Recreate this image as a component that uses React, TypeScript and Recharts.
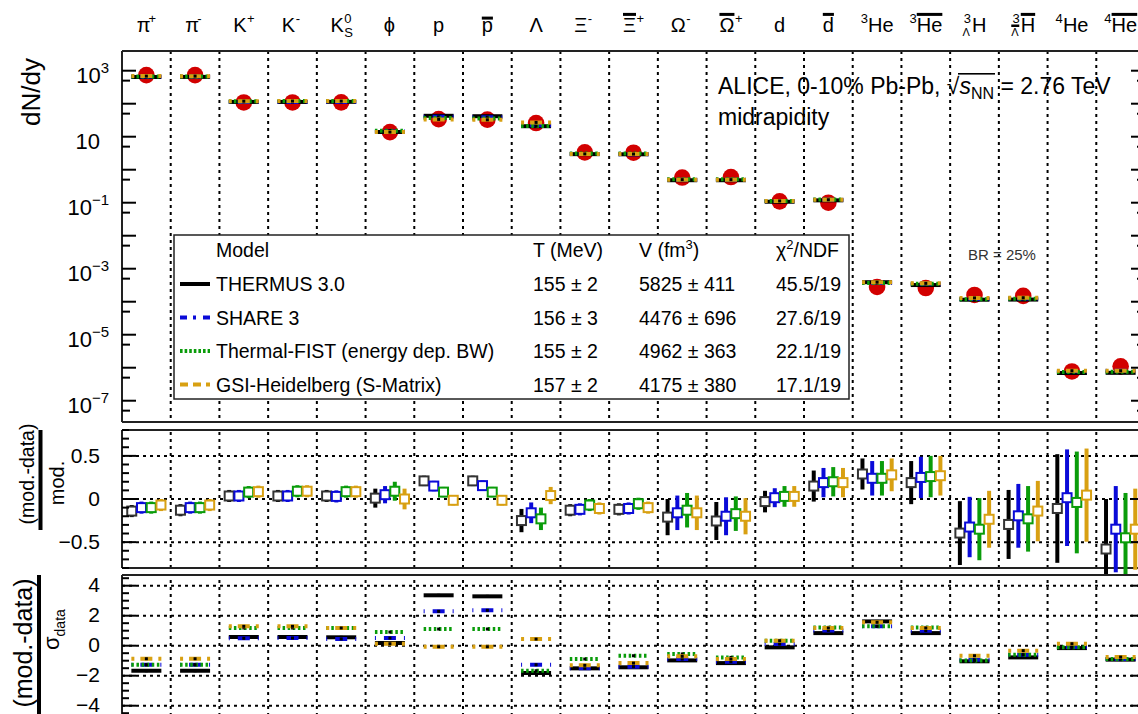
import React from 'react';
import { ScatterChart, Scatter, XAxis, YAxis, ReferenceLine, ErrorBar } from 'recharts';

// ---------------- data ----------------
const categories = ['π+', 'π-', 'K+', 'K-', 'K0S', 'ϕ', 'p', 'p̄', 'Λ', 'Ξ-', 'Ξ̄+', 'Ω-', 'Ω̄+', 'd', 'd̄', '3He', '3H̄e', '3ΛH', '3Λ̄H̄', '4He', '4H̄e'];

// tick label glyph specs (main glyph, superscript, subscript, prescripts, overline)
const catSpecs = [
  { main: 'π', w: 11.4, sup: '+' },
  { main: 'π', w: 11.4, sup: '-' },
  { main: 'K', w: 13.3, sup: '+' },
  { main: 'K', w: 13.3, sup: '-' },
  { main: 'K', w: 13.3, sup: '0', sub: 'S' },
  { main: 'ϕ', w: 12.5 },
  { main: 'p', w: 11.1 },
  { main: 'p', w: 11.1, bar: true, low: true },
  { main: 'Λ', w: 13.3 },
  { main: 'Ξ', w: 13.0, sup: '-' },
  { main: 'Ξ', w: 13.0, sup: '+', bar: true },
  { main: 'Ω', w: 15.0, sup: '-' },
  { main: 'Ω', w: 15.0, sup: '+', bar: true },
  { main: 'd', w: 11.1 },
  { main: 'd', w: 11.1, bar: true },
  { pre: '3', main: 'He', w: 25.6 },
  { pre: '3', main: 'He', w: 25.6, bar: true },
  { pre: '3', preSub: 'Λ', main: 'H', w: 14.4 },
  { pre: '3', preSub: 'Λ', preSubBar: true, main: 'H', w: 14.4, bar: true },
  { pre: '4', main: 'He', w: 25.6 },
  { pre: '4', main: 'He', w: 25.6, bar: true },
];

const dataYield = [733, 732, 109, 109, 110, 13.8, 34, 33, 26, 3.34, 3.28, 0.58, 0.6, 0.11, 0.1, 2.8e-4, 2.6e-4, 1.6e-4, 1.5e-4, 7.7e-7, 1.1e-6];

const thermusYield = [643, 648, 113, 113, 114, 13.9, 43, 41.8, 20.8, 2.96, 2.93, 0.48, 0.48, 0.107, 0.118, 3.9e-4, 3.2e-4, 1.15e-4, 1.16e-4, 6.9e-7, 7.0e-7];
const shareYield = [666, 665, 113, 113, 113.4, 14.5, 40, 39, 22.4, 2.98, 2.95, 0.5, 0.5, 0.112, 0.123, 3.7e-4, 3.5e-4, 1.21e-4, 1.26e-4, 7.8e-7, 8.1e-7];
const fistYield = [666, 665, 118.5, 120, 120, 15.2, 37, 35.9, 21.1, 3.12, 3.11, 0.51, 0.51, 0.113, 0.125, 3.7e-4, 3.5e-4, 1.19e-4, 1.22e-4, 7.4e-7, 7.6e-7];
const gsiYield = [685, 684, 119, 120, 120, 13.8, 33.5, 32.5, 27.1, 3.01, 2.98, 0.5, 0.5, 0.113, 0.123, 3.9e-4, 3.6e-4, 1.3e-4, 1.32e-4, 8.1e-7, 8.1e-7];

const thermusRatio = [-0.14, -0.13, 0.035, 0.035, 0.035, 0.01, 0.21, 0.21, -0.25, -0.13, -0.12, -0.21, -0.255, -0.03, 0.15, 0.29, 0.19, -0.395, -0.295, -0.11, -0.58];
const shareRatio = [-0.1, -0.1, 0.035, 0.035, 0.03, 0.05, 0.15, 0.155, -0.16, -0.12, -0.11, -0.16, -0.2, 0.015, 0.19, 0.24, 0.25, -0.325, -0.195, 0.015, -0.35];
const fistRatio = [-0.1, -0.1, 0.08, 0.09, 0.085, 0.09, 0.08, 0.08, -0.23, -0.07, -0.055, -0.13, -0.17, 0.03, 0.2, 0.24, 0.26, -0.35, -0.23, -0.04, -0.45];
const gsiRatio = [-0.07, -0.07, 0.085, 0.09, 0.085, 0.0, -0.015, -0.015, 0.04, -0.11, -0.1, -0.16, -0.2, 0.03, 0.19, 0.28, 0.27, -0.235, -0.14, 0.045, -0.35];

const thermusRatioErr = [0.07, 0.07, 0.07, 0.07, 0.07, 0.11, 0.06, 0.06, 0.135, 0.07, 0.07, 0.21, 0.22, 0.125, 0.18, 0.18, 0.25, 0.37, 0.4, 0.63, 0.58];
const shareRatioErr = [0.07, 0.07, 0.07, 0.07, 0.07, 0.1, 0.06, 0.06, 0.12, 0.07, 0.07, 0.2, 0.22, 0.11, 0.17, 0.2, 0.24, 0.35, 0.37, 0.56, 0.5];
const fistRatioErr = [0.07, 0.07, 0.07, 0.07, 0.07, 0.11, 0.06, 0.06, 0.13, 0.07, 0.07, 0.2, 0.2, 0.12, 0.17, 0.2, 0.24, 0.36, 0.38, 0.59, 0.52];
const gsiRatioErr = [0.07, 0.07, 0.07, 0.07, 0.07, 0.12, 0.06, 0.06, 0.1, 0.07, 0.07, 0.2, 0.21, 0.12, 0.17, 0.19, 0.23, 0.33, 0.35, 0.54, 0.47];

const thermusSigma = [-1.67, -1.67, 0.58, 0.58, 0.56, 0.18, 3.36, 3.29, -1.82, -1.51, -1.44, -0.98, -1.16, -0.11, 0.84, 1.62, 0.84, -1.04, -0.78, -0.16, -0.93];
const shareSigma = [-1.27, -1.27, 0.49, 0.51, 0.45, 0.51, 2.29, 2.36, -1.27, -1.51, -1.4, -0.89, -1.07, 0.11, 1.02, 1.29, 1.0, -0.93, -0.6, -0.09, -0.89];
const fistSigma = [-1.27, -1.27, 1.18, 1.18, 1.18, 0.91, 1.11, 1.11, -1.67, -0.89, -0.67, -0.55, -0.78, 0.33, 1.22, 1.29, 1.22, -0.98, -0.6, -0.11, -0.89];
const gsiSigma = [-0.87, -0.87, 1.29, 1.29, 1.18, 0.13, -0.07, -0.07, 0.44, -1.31, -1.16, -0.71, -0.89, 0.33, 1.18, 1.56, 1.18, -0.67, -0.33, 0.13, -0.76];

const modelNames = ['THERMUS 3.0', 'SHARE 3', 'Thermal-FIST (energy dep. BW)', 'GSI-Heidelberg (S-Matrix)'];
const modelT = ['155 ± 2', '156 ± 3', '155 ± 2', '157 ± 2'];
const modelV = ['5825 ± 411', '4476 ± 696', '4962 ± 363', '4175 ± 380'];
const modelChi2 = ['45.5/19', '27.6/19', '22.1/19', '17.1/19'];

const topTickExps = [-7, -6, -5, -4, -3, -2, -1, 0, 1, 2, 3];
const topLabelExps = [3, 1, -1, -3, -5, -7];
const midTickValues = [-0.8, -0.7, -0.6, -0.5, -0.4, -0.3, -0.2, -0.1, 0, 0.1, 0.2, 0.3, 0.4, 0.5, 0.6, 0.7, 0.8];
const midGrid = [-0.5, 0, 0.5];
const botTickValues = [-4.5, -4, -3.5, -3, -2.5, -2, -1.5, -1, -0.5, 0, 0.5, 1, 1.5, 2, 2.5, 3, 3.5, 4, 4.5];
const botGrid = [-4, -2, 0, 2, 4];

// ---------------- styling ----------------
const FONT = "'Liberation Sans', Arial, Helvetica, sans-serif";
const CW = 1160;
const PLOT_L = 122;
const PLOT_R = 1145;
const Y_AXIS_W = 112;
const M_LEFT = PLOT_L - Y_AXIS_W;
const M_RIGHT = CW - PLOT_R;
const LOG_MIN = Math.pow(10, -7.645);
const LOG_MAX = Math.pow(10, 3.597);
const MID_DOMAIN = [-0.8, 0.8];
const BOT_DOMAIN = [-4.687, 4.713];

const modelColors = ['#000000', '#0a0ad8', '#0a9c0a', '#d8a012'];
const segDash = [undefined, '1 8 12 8 1', '2.5 2.6', '3 6 12 6 3'];
const legendDash = [undefined, '7 6 3 7 7', '2.6 2', '8 5'];
const squareStroke = ['#333333', '#0a0ad8', '#0a9c0a', '#d8a012'];
const offsets = [-0.3, -0.1, 0.1, 0.3];

const centers = categories.map((_, i) => i + 0.5);
const separators = categories.slice(1).map((_, i) => i + 1);

const topTicks = [
  ...topTickExps.map((e) => Math.pow(10, e)),
  ...topTickExps.map((e) => 5 * Math.pow(10, e - 1)),
].sort((a, b) => a - b);

const yieldSets = [thermusYield, shareYield, fistYield, gsiYield];
const ratioSets = [thermusRatio, shareRatio, fistRatio, gsiRatio];
const ratioErrSets = [thermusRatioErr, shareRatioErr, fistRatioErr, gsiRatioErr];
const sigmaSets = [thermusSigma, shareSigma, fistSigma, gsiSigma];

const dataRows = dataYield.map((v, i) => ({ x: centers[i], y: v }));
const modelYieldRows = yieldSets.map((set) => set.map((v, i) => ({ x: centers[i], y: v })));
const modelRatioRows = ratioSets.map((set, k) =>
  set.map((v, i) => ({ x: centers[i] + offsets[k], y: v, err: ratioErrSets[k][i] }))
);
const modelSigmaRows = sigmaSets.map((set) => set.map((v, i) => ({ x: centers[i], y: v })));

// ---------------- shapes & ticks ----------------
const redCircle = (props: any) => {
  const { cx, cy } = props;
  if (cx == null || cy == null) return null;
  return <circle cx={cx} cy={cy} r={8.3} fill="#d20000" />;
};

const segShape = (k: number) => (props: any) => {
  const { cx, cy } = props;
  if (cx == null || cy == null) return null;
  return (
    <g>
      <line x1={cx - 15} x2={cx + 15} y1={cy} y2={cy} stroke={modelColors[k]} strokeWidth={4} strokeDasharray={segDash[k]} />
      <rect x={cx - 1.5} y={cy - 1.5} width={3} height={3} fill="#000" />
    </g>
  );
};

const squareShape = (k: number) => (props: any) => {
  const { cx, cy } = props;
  if (cx == null || cy == null) return null;
  return <rect x={cx - 4.5} y={cy - 4.5} width={9} height={9} fill="#fff" stroke={squareStroke[k]} strokeWidth={2} />;
};

const minus = (v: number) => (v < 0 ? '\u2212' + String(Math.abs(v)) : String(v));

const CatTick = (props: any) => {
  const { x, payload } = props;
  const i = Math.round(payload.value - 0.5);
  const s: any = catSpecs[i];
  if (!s) return null;
  const F = 20;
  const f = 13;
  const base = 32;
  const preW = s.pre ? (s.preSub ? 9.5 : 7.5) : 0;
  const supW = s.sup || s.sub ? 8 : 0;
  const total = preW + s.w + supW;
  const x0 = x - total / 2;
  const xm = x0 + preW;
  const barY = s.low ? base - 0.52 * F - 5 : base - 0.73 * F - 4.5;
  return (
    <g fontFamily={FONT} fill="#000">
      {s.pre && <text x={x0 + (preW - 7.2) / 2} y={base - 9} fontSize={f}>{s.pre}</text>}
      {s.preSub && <text x={x0} y={base + 4} fontSize={11}>{s.preSub}</text>}
      {s.preSubBar && <rect x={x0} y={base - 7.5} width={8} height={2.5} fill="#000" />}
      <text x={xm} y={base} fontSize={F}>{s.main}</text>
      {s.bar && <rect x={xm} y={barY} width={s.w} height={3} fill="#000" />}
      {s.sup && <text x={xm + s.w + 0.5} y={base - 9} fontSize={f}>{s.sup}</text>}
      {s.sub && <text x={xm + s.w + 0.5} y={base + 5} fontSize={f}>{s.sub}</text>}
    </g>
  );
};

const TopYTick = (props: any) => {
  const { y, payload } = props;
  const e = Math.log10(payload.value);
  const re = Math.round(e);
  const major = Math.abs(e - re) < 1e-6;
  const len = major ? 14 : 8;
  const labeled = major && topLabelExps.indexOf(re) >= 0;
  return (
    <g>
      <line x1={PLOT_L} x2={PLOT_L + len} y1={y} y2={y} stroke="#000" strokeWidth={2} />
      <line x1={PLOT_R - len} x2={PLOT_R} y1={y} y2={y} stroke="#000" strokeWidth={2} />
      {labeled && (
        <text x={re === 1 ? 100 : 109} y={y + 12} textAnchor="end" fontSize={22} fontFamily={FONT} fill="#000">
          10
          {re !== 1 && (
            <tspan dy={-10} fontSize={15}>
              {minus(re)}
            </tspan>
          )}
        </text>
      )}
    </g>
  );
};

const makeLinTick = (isMajor: (v: number) => boolean, dy: number) => (props: any) => {
  const { y, payload } = props;
  const v = payload.value;
  const major = isMajor(v);
  const len = major ? 14 : 7;
  return (
    <g>
      <line x1={PLOT_L} x2={PLOT_L + len} y1={y} y2={y} stroke="#000" strokeWidth={2} />
      <line x1={PLOT_R - len} x2={PLOT_R} y1={y} y2={y} stroke="#000" strokeWidth={2} />
      {major && (
        <text x={100} y={y + dy} textAnchor="end" fontSize={21} fontFamily={FONT} fill="#000">
          {minus(v)}
        </text>
      )}
    </g>
  );
};

const MidTick = makeLinTick((v) => Math.abs(v * 2 - Math.round(v * 2)) < 1e-6, 7);
const BotTick = makeLinTick((v) => Math.abs(v / 2 - Math.round(v / 2)) < 1e-6, 6);

const dotted = { stroke: '#000', strokeWidth: 2, strokeDasharray: '3 4' };
const frame = { stroke: '#222', strokeWidth: 2, ifOverflow: 'visible' as const };

// ---------------- charts ----------------
function TopChart() {
  return (
    <ScatterChart width={CW} height={430} margin={{ top: 11, right: M_RIGHT, bottom: 8, left: M_LEFT }}>
      <XAxis type="number" dataKey="x" domain={[0, 21]} allowDataOverflow orientation="top" height={40}
        ticks={centers} interval={0} tick={(p: any) => <CatTick {...p} />} tickLine={false} axisLine={false} />
      <YAxis type="number" dataKey="y" scale="log" domain={[LOG_MIN, LOG_MAX]} allowDataOverflow width={Y_AXIS_W}
        ticks={topTicks} interval={0} tick={(p: any) => <TopYTick {...p} />} tickLine={false} axisLine={false} />
      {separators.map((s) => (
        <ReferenceLine key={'s' + s} x={s} {...dotted} />
      ))}
      <ReferenceLine x={0} {...frame} />
      <ReferenceLine x={21} {...frame} />
      <ReferenceLine y={LOG_MAX} {...frame} />
      <ReferenceLine y={LOG_MIN} {...frame} />
      <Scatter data={dataRows} shape={redCircle} isAnimationActive={false} />
      {modelYieldRows.map((rows, k) => (
        <Scatter key={'my' + k} data={rows} shape={segShape(k)} isAnimationActive={false} />
      ))}
    </ScatterChart>
  );
}

function MidChart() {
  return (
    <ScatterChart width={CW} height={150} margin={{ top: 6, right: M_RIGHT, bottom: 6, left: M_LEFT }}>
      <XAxis type="number" dataKey="x" domain={[0, 21]} allowDataOverflow hide />
      <YAxis type="number" dataKey="y" domain={MID_DOMAIN} allowDataOverflow width={Y_AXIS_W}
        ticks={midTickValues} interval={0} tick={(p: any) => <MidTick {...p} />} tickLine={false} axisLine={false} />
      {separators.map((s) => (
        <ReferenceLine key={'s' + s} x={s} {...dotted} />
      ))}
      {midGrid.map((g) => (
        <ReferenceLine key={'g' + g} y={g} {...dotted} />
      ))}
      <ReferenceLine x={0} {...frame} />
      <ReferenceLine x={21} {...frame} />
      <ReferenceLine y={MID_DOMAIN[1]} {...frame} />
      <ReferenceLine y={MID_DOMAIN[0]} {...frame} />
      {modelRatioRows.map((rows, k) => (
        <Scatter key={'mr' + k} data={rows} shape={squareShape(k)} isAnimationActive={false}>
          <ErrorBar dataKey="err" direction="y" width={0} strokeWidth={4} stroke={modelColors[k]} />
        </Scatter>
      ))}
    </ScatterChart>
  );
}

function BottomChart() {
  return (
    <ScatterChart width={CW} height={150} margin={{ top: 5, right: M_RIGHT, bottom: 4, left: M_LEFT }}>
      <XAxis type="number" dataKey="x" domain={[0, 21]} allowDataOverflow hide />
      <YAxis type="number" dataKey="y" domain={BOT_DOMAIN} allowDataOverflow width={Y_AXIS_W}
        ticks={botTickValues} interval={0} tick={(p: any) => <BotTick {...p} />} tickLine={false} axisLine={false} />
      {separators.map((s) => (
        <ReferenceLine key={'s' + s} x={s} {...dotted} />
      ))}
      {botGrid.map((g) => (
        <ReferenceLine key={'g' + g} y={g} {...dotted} />
      ))}
      <ReferenceLine x={0} {...frame} />
      <ReferenceLine x={21} {...frame} />
      <ReferenceLine y={BOT_DOMAIN[1]} {...frame} />
      {modelSigmaRows.map((rows, k) => (
        <Scatter key={'ms' + k} data={rows} shape={segShape(k)} isAnimationActive={false} />
      ))}
    </ScatterChart>
  );
}

function Overlay() {
  const rowBase = (k: number) => 291 + 33.5 * k;
  return (
    <svg width={1138} height={714} style={{ position: 'absolute', left: 0, top: 0, pointerEvents: 'none' }} fontFamily={FONT}>
      {/* axis titles */}
      <text transform="translate(40,92) rotate(-90)" textAnchor="middle" fontSize={26} fill="#000">dN/dy</text>
      <text transform="translate(34,474) rotate(-90)" textAnchor="middle" fontSize={19.5} fill="#000">(mod.-data)</text>
      <rect x={38.5} y={430} width={4} height={100} fill="#000" />
      <text transform="translate(64,483) rotate(-90)" textAnchor="middle" fontSize={20} fill="#000">mod.</text>
      <text transform="translate(32,643) rotate(-90)" textAnchor="middle" fontSize={25} fill="#000">(mod.-data)</text>
      <rect x={37} y={575} width={4} height={140} fill="#000" />
      <text transform="translate(59,650) rotate(-90)" fontSize={22} fill="#000">
        σ<tspan dy={6} fontSize={14}>data</tspan>
      </text>

      {/* annotations */}
      <text x={718} y={94} fontSize={23} fill="#000">
        ALICE, 0-10% Pb-Pb, √<tspan fontStyle="italic">s</tspan>
        <tspan dy={5} fontSize={16}>NN</tspan>
        <tspan dy={-5}> = 2.76 TeV</tspan>
      </text>
      <rect x={958} y={73} width={37} height={1.6} fill="#000" />
      <text x={718} y={125} fontSize={23} fill="#000">midrapidity</text>
      <text x={968} y={260} fontSize={15} fill="#333">BR = 25%</text>

      {/* legend */}
      <rect x={174} y={235} width={675} height={164} fill="#fff" stroke="#222" strokeWidth={1.5} />
      <g fontSize={19.5} fill="#000">
        <text x={216} y={257}>Model</text>
        <text x={533} y={257}>T (MeV)</text>
        <text x={639} y={257}>
          V (fm<tspan dy={-8} fontSize={13}>3</tspan>
          <tspan dy={8}>)</tspan>
        </text>
        <text x={776} y={257}>
          χ<tspan dy={-8} fontSize={13}>2</tspan>
          <tspan dy={8}>/NDF</tspan>
        </text>
        {modelNames.map((n, k) => (
          <g key={n}>
            <line x1={180} x2={210} y1={rowBase(k) - 7} y2={rowBase(k) - 7} stroke={modelColors[k]} strokeWidth={4} strokeDasharray={legendDash[k]} />
            <text x={216} y={rowBase(k)}>{n}</text>
            <text x={533} y={rowBase(k)}>{modelT[k]}</text>
            <text x={639} y={rowBase(k)}>{modelV[k]}</text>
            <text x={776} y={rowBase(k)}>{modelChi2[k]}</text>
          </g>
        ))}
      </g>
    </svg>
  );
}

export default function App() {
  return (
    <div style={{ position: 'absolute', left: 0, top: 0, width: 1138, height: 714, overflow: 'hidden', background: '#fff', fontFamily: FONT }}>
      <div style={{ position: 'absolute', left: 0, top: 0 }}>
        <TopChart />
      </div>
      <div style={{ position: 'absolute', left: 0, top: 424 }}>
        <MidChart />
      </div>
      <div style={{ position: 'absolute', left: 0, top: 570 }}>
        <BottomChart />
      </div>
      <Overlay />
    </div>
  );
}
